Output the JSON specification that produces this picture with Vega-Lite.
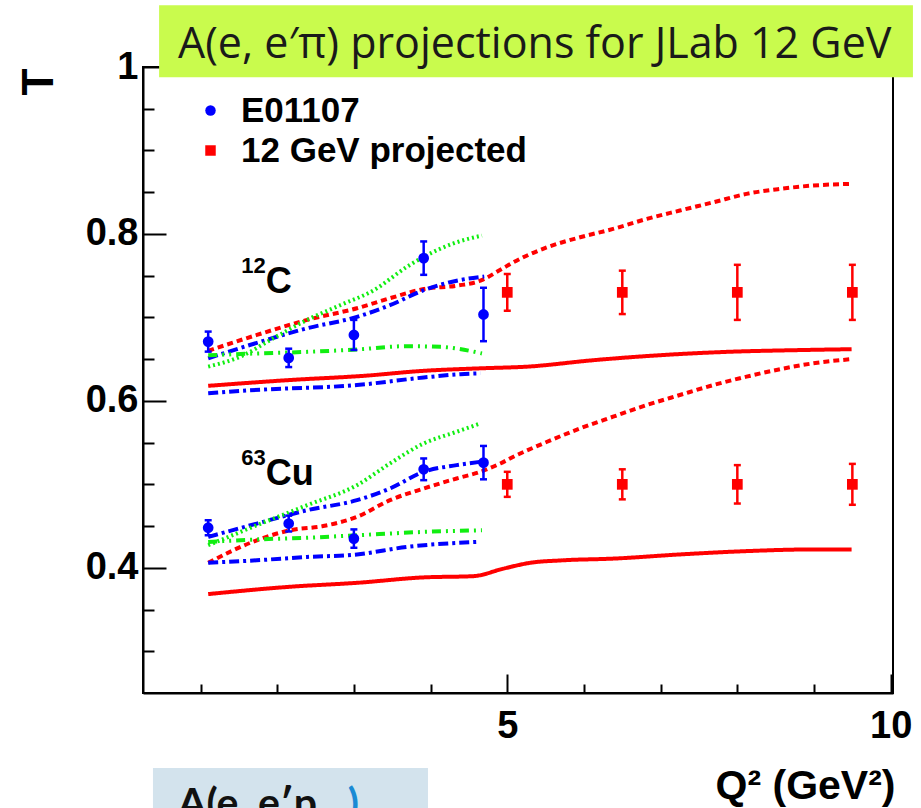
{
  "$schema": "https://vega.github.io/schema/vega-lite/v6.json",
  "autosize": {"type": "none"},
  "width": 750,
  "height": 626,
  "padding": {"left": 143, "top": 67, "right": 28, "bottom": 115},
  "background": "white",
  "config": {
    "view": {"stroke": "#000000", "strokeWidth": 2},
    "axis": {"grid": false, "domainColor": "#000000", "domainWidth": 2, "tickColor": "#000000", "tickWidth": 2, "labelFont": "Liberation Sans", "labelFontWeight": "bold", "labelColor": "#000000", "titleFont": "Liberation Sans", "titleFontWeight": "bold", "titleColor": "#000000"},
    "legend": {"labelFont": "Liberation Sans", "labelFontWeight": "bold", "labelFontSize": 35, "labelColor": "#000000", "labelLimit": 500, "symbolSize": 110, "labelOffset": 13, "rowPadding": 4, "padding": 0, "symbolStrokeWidth": 0, "symbolOpacity": 1}
  },
  "datasets": {
    "curves": [
      {"model": "LMS+CT", "nucleus": "C", "q2": 1.10, "t": 0.660},
      {"model": "LMS+CT", "nucleus": "C", "q2": 1.735, "t": 0.679},
      {"model": "LMS+CT", "nucleus": "C", "q2": 2.39, "t": 0.697},
      {"model": "LMS+CT", "nucleus": "C", "q2": 3.04, "t": 0.711},
      {"model": "LMS+CT", "nucleus": "C", "q2": 3.47, "t": 0.723},
      {"model": "LMS+CT", "nucleus": "C", "q2": 3.91, "t": 0.734},
      {"model": "LMS+CT", "nucleus": "C", "q2": 4.34, "t": 0.738},
      {"model": "LMS+CT", "nucleus": "C", "q2": 4.65, "t": 0.744},
      {"model": "LMS+CT", "nucleus": "C", "q2": 4.91, "t": 0.757},
      {"model": "LMS+CT", "nucleus": "C", "q2": 5.08, "t": 0.766},
      {"model": "LMS+CT", "nucleus": "C", "q2": 5.52, "t": 0.784},
      {"model": "LMS+CT", "nucleus": "C", "q2": 5.95, "t": 0.796},
      {"model": "LMS+CT", "nucleus": "C", "q2": 6.38, "t": 0.806},
      {"model": "LMS+CT", "nucleus": "C", "q2": 6.82, "t": 0.818},
      {"model": "LMS+CT", "nucleus": "C", "q2": 7.25, "t": 0.828},
      {"model": "LMS+CT", "nucleus": "C", "q2": 7.69, "t": 0.838},
      {"model": "LMS+CT", "nucleus": "C", "q2": 8.12, "t": 0.848},
      {"model": "LMS+CT", "nucleus": "C", "q2": 8.56, "t": 0.854},
      {"model": "LMS+CT", "nucleus": "C", "q2": 8.99, "t": 0.858},
      {"model": "LMS+CT", "nucleus": "C", "q2": 9.49, "t": 0.860},
      {"model": "LMS", "nucleus": "C", "q2": 1.10, "t": 0.618},
      {"model": "LMS", "nucleus": "C", "q2": 2.17, "t": 0.625},
      {"model": "LMS", "nucleus": "C", "q2": 3.13, "t": 0.630},
      {"model": "LMS", "nucleus": "C", "q2": 3.91, "t": 0.636},
      {"model": "LMS", "nucleus": "C", "q2": 4.65, "t": 0.639},
      {"model": "LMS", "nucleus": "C", "q2": 5.26, "t": 0.641},
      {"model": "LMS", "nucleus": "C", "q2": 6.12, "t": 0.6487},
      {"model": "LMS", "nucleus": "C", "q2": 6.99, "t": 0.6547},
      {"model": "LMS", "nucleus": "C", "q2": 7.86, "t": 0.6587},
      {"model": "LMS", "nucleus": "C", "q2": 8.73, "t": 0.6607},
      {"model": "LMS", "nucleus": "C", "q2": 9.49, "t": 0.6619},
      {"model": "RMSGA+CT", "nucleus": "C", "q2": 1.10, "t": 0.651},
      {"model": "RMSGA+CT", "nucleus": "C", "q2": 1.735, "t": 0.6695},
      {"model": "RMSGA+CT", "nucleus": "C", "q2": 2.39, "t": 0.687},
      {"model": "RMSGA+CT", "nucleus": "C", "q2": 3.04, "t": 0.7006},
      {"model": "RMSGA+CT", "nucleus": "C", "q2": 3.47, "t": 0.7146},
      {"model": "RMSGA+CT", "nucleus": "C", "q2": 3.91, "t": 0.7326},
      {"model": "RMSGA+CT", "nucleus": "C", "q2": 4.34, "t": 0.744},
      {"model": "RMSGA+CT", "nucleus": "C", "q2": 4.70, "t": 0.749},
      {"model": "RMSGA", "nucleus": "C", "q2": 1.10, "t": 0.609},
      {"model": "RMSGA", "nucleus": "C", "q2": 1.52, "t": 0.612},
      {"model": "RMSGA", "nucleus": "C", "q2": 2.17, "t": 0.615},
      {"model": "RMSGA", "nucleus": "C", "q2": 2.73, "t": 0.617},
      {"model": "RMSGA", "nucleus": "C", "q2": 3.04, "t": 0.619},
      {"model": "RMSGA", "nucleus": "C", "q2": 3.91, "t": 0.628},
      {"model": "RMSGA", "nucleus": "C", "q2": 4.39, "t": 0.632},
      {"model": "RMSGA", "nucleus": "C", "q2": 4.65, "t": 0.633},
      {"model": "KGM+CT", "nucleus": "C", "q2": 1.10, "t": 0.641},
      {"model": "KGM+CT", "nucleus": "C", "q2": 1.52, "t": 0.653},
      {"model": "KGM+CT", "nucleus": "C", "q2": 1.95, "t": 0.675},
      {"model": "KGM+CT", "nucleus": "C", "q2": 2.39, "t": 0.697},
      {"model": "KGM+CT", "nucleus": "C", "q2": 2.82, "t": 0.7146},
      {"model": "KGM+CT", "nucleus": "C", "q2": 3.26, "t": 0.7326},
      {"model": "KGM+CT", "nucleus": "C", "q2": 3.69, "t": 0.7605},
      {"model": "KGM+CT", "nucleus": "C", "q2": 3.91, "t": 0.7725},
      {"model": "KGM+CT", "nucleus": "C", "q2": 4.34, "t": 0.790},
      {"model": "KGM+CT", "nucleus": "C", "q2": 4.67, "t": 0.798},
      {"model": "KGM", "nucleus": "C", "q2": 1.10, "t": 0.6547},
      {"model": "KGM", "nucleus": "C", "q2": 1.735, "t": 0.6568},
      {"model": "KGM", "nucleus": "C", "q2": 2.39, "t": 0.6587},
      {"model": "KGM", "nucleus": "C", "q2": 3.04, "t": 0.6616},
      {"model": "KGM", "nucleus": "C", "q2": 3.69, "t": 0.6655},
      {"model": "KGM", "nucleus": "C", "q2": 4.13, "t": 0.6647},
      {"model": "KGM", "nucleus": "C", "q2": 4.67, "t": 0.6568},
      {"model": "LMS+CT", "nucleus": "Cu", "q2": 1.10, "t": 0.406},
      {"model": "LMS+CT", "nucleus": "Cu", "q2": 1.735, "t": 0.433},
      {"model": "LMS+CT", "nucleus": "Cu", "q2": 2.17, "t": 0.445},
      {"model": "LMS+CT", "nucleus": "Cu", "q2": 2.60, "t": 0.450},
      {"model": "LMS+CT", "nucleus": "Cu", "q2": 3.04, "t": 0.461},
      {"model": "LMS+CT", "nucleus": "Cu", "q2": 3.47, "t": 0.481},
      {"model": "LMS+CT", "nucleus": "Cu", "q2": 3.91, "t": 0.495},
      {"model": "LMS+CT", "nucleus": "Cu", "q2": 4.34, "t": 0.507},
      {"model": "LMS+CT", "nucleus": "Cu", "q2": 4.65, "t": 0.515},
      {"model": "LMS+CT", "nucleus": "Cu", "q2": 4.91, "t": 0.525},
      {"model": "LMS+CT", "nucleus": "Cu", "q2": 5.08, "t": 0.533},
      {"model": "LMS+CT", "nucleus": "Cu", "q2": 5.52, "t": 0.551},
      {"model": "LMS+CT", "nucleus": "Cu", "q2": 5.95, "t": 0.567},
      {"model": "LMS+CT", "nucleus": "Cu", "q2": 6.38, "t": 0.581},
      {"model": "LMS+CT", "nucleus": "Cu", "q2": 6.82, "t": 0.595},
      {"model": "LMS+CT", "nucleus": "Cu", "q2": 7.25, "t": 0.607},
      {"model": "LMS+CT", "nucleus": "Cu", "q2": 7.69, "t": 0.619},
      {"model": "LMS+CT", "nucleus": "Cu", "q2": 8.12, "t": 0.629},
      {"model": "LMS+CT", "nucleus": "Cu", "q2": 8.56, "t": 0.638},
      {"model": "LMS+CT", "nucleus": "Cu", "q2": 8.99, "t": 0.645},
      {"model": "LMS+CT", "nucleus": "Cu", "q2": 9.49, "t": 0.650},
      {"model": "LMS", "nucleus": "Cu", "q2": 1.10, "t": 0.3685},
      {"model": "LMS", "nucleus": "Cu", "q2": 2.17, "t": 0.3773},
      {"model": "LMS", "nucleus": "Cu", "q2": 3.04, "t": 0.382},
      {"model": "LMS", "nucleus": "Cu", "q2": 3.91, "t": 0.3885},
      {"model": "LMS", "nucleus": "Cu", "q2": 4.56, "t": 0.390},
      {"model": "LMS", "nucleus": "Cu", "q2": 4.95, "t": 0.399},
      {"model": "LMS", "nucleus": "Cu", "q2": 5.30, "t": 0.406},
      {"model": "LMS", "nucleus": "Cu", "q2": 5.73, "t": 0.409},
      {"model": "LMS", "nucleus": "Cu", "q2": 6.38, "t": 0.411},
      {"model": "LMS", "nucleus": "Cu", "q2": 7.25, "t": 0.416},
      {"model": "LMS", "nucleus": "Cu", "q2": 8.12, "t": 0.420},
      {"model": "LMS", "nucleus": "Cu", "q2": 8.99, "t": 0.422},
      {"model": "LMS", "nucleus": "Cu", "q2": 9.49, "t": 0.422},
      {"model": "RMSGA+CT", "nucleus": "Cu", "q2": 1.10, "t": 0.437},
      {"model": "RMSGA+CT", "nucleus": "Cu", "q2": 1.735, "t": 0.453},
      {"model": "RMSGA+CT", "nucleus": "Cu", "q2": 2.39, "t": 0.469},
      {"model": "RMSGA+CT", "nucleus": "Cu", "q2": 3.04, "t": 0.481},
      {"model": "RMSGA+CT", "nucleus": "Cu", "q2": 3.47, "t": 0.495},
      {"model": "RMSGA+CT", "nucleus": "Cu", "q2": 3.91, "t": 0.515},
      {"model": "RMSGA+CT", "nucleus": "Cu", "q2": 4.34, "t": 0.523},
      {"model": "RMSGA+CT", "nucleus": "Cu", "q2": 4.65, "t": 0.527},
      {"model": "RMSGA", "nucleus": "Cu", "q2": 1.10, "t": 0.406},
      {"model": "RMSGA", "nucleus": "Cu", "q2": 1.735, "t": 0.409},
      {"model": "RMSGA", "nucleus": "Cu", "q2": 2.39, "t": 0.413},
      {"model": "RMSGA", "nucleus": "Cu", "q2": 3.04, "t": 0.416},
      {"model": "RMSGA", "nucleus": "Cu", "q2": 3.69, "t": 0.425},
      {"model": "RMSGA", "nucleus": "Cu", "q2": 4.60, "t": 0.431},
      {"model": "KGM+CT", "nucleus": "Cu", "q2": 1.10, "t": 0.427},
      {"model": "KGM+CT", "nucleus": "Cu", "q2": 1.735, "t": 0.451},
      {"model": "KGM+CT", "nucleus": "Cu", "q2": 2.39, "t": 0.475},
      {"model": "KGM+CT", "nucleus": "Cu", "q2": 3.04, "t": 0.499},
      {"model": "KGM+CT", "nucleus": "Cu", "q2": 3.47, "t": 0.525},
      {"model": "KGM+CT", "nucleus": "Cu", "q2": 3.91, "t": 0.549},
      {"model": "KGM+CT", "nucleus": "Cu", "q2": 4.34, "t": 0.563},
      {"model": "KGM+CT", "nucleus": "Cu", "q2": 4.65, "t": 0.573},
      {"model": "KGM", "nucleus": "Cu", "q2": 1.10, "t": 0.431},
      {"model": "KGM", "nucleus": "Cu", "q2": 1.735, "t": 0.434},
      {"model": "KGM", "nucleus": "Cu", "q2": 2.39, "t": 0.436},
      {"model": "KGM", "nucleus": "Cu", "q2": 3.04, "t": 0.439},
      {"model": "KGM", "nucleus": "Cu", "q2": 3.91, "t": 0.443},
      {"model": "KGM", "nucleus": "Cu", "q2": 4.67, "t": 0.445}
    ],
    "points": [
      {"set": "E01107", "nucleus": "C", "q2": 1.1, "t": 0.671, "lo": 0.659, "hi": 0.683},
      {"set": "E01107", "nucleus": "C", "q2": 2.15, "t": 0.6515, "lo": 0.6405, "hi": 0.6625},
      {"set": "E01107", "nucleus": "C", "q2": 3.0, "t": 0.679, "lo": 0.661, "hi": 0.697},
      {"set": "E01107", "nucleus": "C", "q2": 3.91, "t": 0.771, "lo": 0.751, "hi": 0.791},
      {"set": "E01107", "nucleus": "C", "q2": 4.69, "t": 0.7035, "lo": 0.6715, "hi": 0.7355},
      {"set": "E01107", "nucleus": "Cu", "q2": 1.1, "t": 0.448, "lo": 0.439, "hi": 0.457},
      {"set": "E01107", "nucleus": "Cu", "q2": 2.15, "t": 0.453, "lo": 0.4435, "hi": 0.4625},
      {"set": "E01107", "nucleus": "Cu", "q2": 3.0, "t": 0.435, "lo": 0.424, "hi": 0.446},
      {"set": "E01107", "nucleus": "Cu", "q2": 3.91, "t": 0.518, "lo": 0.505, "hi": 0.531},
      {"set": "E01107", "nucleus": "Cu", "q2": 4.69, "t": 0.526, "lo": 0.506, "hi": 0.546},
      {"set": "12 GeV projected", "nucleus": "C", "q2": 5.0, "t": 0.73, "lo": 0.708, "hi": 0.752},
      {"set": "12 GeV projected", "nucleus": "C", "q2": 6.5, "t": 0.73, "lo": 0.704, "hi": 0.756},
      {"set": "12 GeV projected", "nucleus": "C", "q2": 8.0, "t": 0.73, "lo": 0.697, "hi": 0.763},
      {"set": "12 GeV projected", "nucleus": "C", "q2": 9.5, "t": 0.73, "lo": 0.697, "hi": 0.763},
      {"set": "12 GeV projected", "nucleus": "Cu", "q2": 5.0, "t": 0.50, "lo": 0.485, "hi": 0.515},
      {"set": "12 GeV projected", "nucleus": "Cu", "q2": 6.5, "t": 0.50, "lo": 0.482, "hi": 0.518},
      {"set": "12 GeV projected", "nucleus": "Cu", "q2": 8.0, "t": 0.50, "lo": 0.477, "hi": 0.523},
      {"set": "12 GeV projected", "nucleus": "Cu", "q2": 9.5, "t": 0.50, "lo": 0.4755, "hi": 0.5245}
    ],
    "labels": [
      {"mass": "12", "sym": "C", "q2": 1.85, "t": 0.729},
      {"mass": "63", "sym": "Cu", "q2": 1.85, "t": 0.499}
    ],
    "one": [{}]
  },
  "layer": [
    {
      "data": {"name": "one"},
      "mark": {"type": "rect", "color": "#c9fb4d"},
      "encoding": {
        "x": {"datum": 0.46, "type": "quantitative", "scale": {"domain": [0.25, 10.03], "nice": false, "zero": false}},
        "x2": {"datum": 10.29},
        "y": {"datum": 1.074, "type": "quantitative", "scale": {"domain": [0.25, 1.0], "nice": false, "zero": false}},
        "y2": {"datum": 0.9877}
      }
    },
    {
      "data": {"name": "one"},
      "mark": {"type": "text", "text": "A(e, e′π) projections for JLab 12 GeV", "font": "Open Sans", "fontSize": 43, "fontWeight": "normal", "color": "#1a1a1a", "align": "left", "baseline": "alphabetic"},
      "encoding": {
        "x": {"datum": 0.706, "type": "quantitative"},
        "y": {"datum": 1.0108, "type": "quantitative"}
      }
    },
    {
      "data": {"name": "one"},
      "mark": {"type": "rect", "color": "#d3e3ed"},
      "encoding": {
        "x": {"datum": 0.38, "type": "quantitative"},
        "x2": {"datum": 3.966},
        "y": {"datum": 0.1601, "type": "quantitative"},
        "y2": {"datum": 0.09}
      }
    },
    {
      "data": {"name": "one"},
      "mark": {"type": "text", "text": "A(e, e′p", "font": "Lato", "fontSize": 41, "fontWeight": "bold", "color": "#111111", "align": "left", "baseline": "alphabetic"},
      "encoding": {
        "x": {"datum": 0.706, "type": "quantitative"},
        "y": {"datum": 0.1014, "type": "quantitative"}
      }
    },
    {
      "data": {"name": "one"},
      "mark": {"type": "text", "text": ")", "font": "Lato", "fontSize": 41, "fontWeight": "bold", "color": "#1a8ad4", "align": "left", "baseline": "alphabetic"},
      "encoding": {
        "x": {"datum": 2.92, "type": "quantitative"},
        "y": {"datum": 0.1014, "type": "quantitative"}
      }
    },
    {
      "data": {"name": "curves"},
      "mark": {"type": "line", "strokeWidth": 4, "interpolate": "monotone", "strokeCap": "butt"},
      "encoding": {
        "x": {
          "field": "q2", "type": "quantitative",
          "axis": {
            "values": [1, 2, 3, 4, 5, 6, 7, 8, 9, 10],
            "labelExpr": "(datum.value == 5 || datum.value == 10) ? format(datum.value, 'd') : ''",
            "tickSize": {"condition": {"test": "datum.value == 5 || datum.value == 10", "value": -19}, "value": -9},
            "labelFontSize": 38,
            "labelPadding": 33,
            "labelFlush": false,
            "labelOverlap": false,
            "title": "Q² (GeV²)",
            "titleFontSize": 41,
            "titleAnchor": "end",
            "titleAlign": "right",
            "titleBaseline": "alphabetic",
            "titleX": 752,
            "titleY": 105
          }
        },
        "y": {
          "field": "t", "type": "quantitative",
          "axis": {
            "values": [0.3, 0.35, 0.4, 0.45, 0.5, 0.55, 0.6, 0.65, 0.7, 0.75, 0.8, 0.85, 0.9, 0.95, 1.0],
            "labelExpr": "abs(datum.value*5 - round(datum.value*5)) < 0.001 ? (datum.value > 0.99 ? '1' : format(datum.value, '.1f')) : ''",
            "tickSize": {"condition": {"test": "abs(datum.value*5 - round(datum.value*5)) < 0.001", "value": -23}, "value": -11},
            "labelFontSize": 38,
            "labelPadding": 28,
            "labelFlush": false,
            "labelOverlap": false,
            "title": "T",
            "titleFontSize": 44,
            "titleAngle": -90,
            "titleAlign": "right",
            "titleBaseline": "alphabetic",
            "titleX": -91,
            "titleY": 1
          }
        },
        "stroke": {
          "field": "model", "type": "nominal", "legend": null,
          "scale": {"domain": ["LMS+CT", "LMS", "RMSGA+CT", "RMSGA", "KGM+CT", "KGM"], "range": ["#ff0000", "#ff0000", "#0000ff", "#0000ff", "#11ee11", "#11ee11"]}
        },
        "strokeDash": {
          "field": "model", "type": "nominal", "legend": null,
          "scale": {"domain": ["LMS+CT", "LMS", "RMSGA+CT", "RMSGA", "KGM+CT", "KGM"], "range": [[6, 4], [1, 0], [10, 4, 3, 4], [10, 4, 3, 4], [2, 3], [9, 5, 2, 5, 2, 5]]}
        },
        "detail": {"field": "nucleus", "type": "nominal"}
      }
    },
    {
      "data": {"name": "points"},
      "mark": {"type": "rule", "strokeWidth": 2.5},
      "encoding": {
        "x": {"field": "q2", "type": "quantitative"},
        "y": {"field": "lo", "type": "quantitative"},
        "y2": {"field": "hi"},
        "color": {"field": "set", "type": "nominal", "scale": {"domain": ["E01107", "12 GeV projected"], "range": ["#0000ff", "#ff0000"]}}
      }
    },
    {
      "data": {"name": "points"},
      "mark": {"type": "tick", "orient": "horizontal", "size": 7, "thickness": 2.5, "opacity": 1},
      "encoding": {
        "x": {"field": "q2", "type": "quantitative"},
        "y": {"field": "lo", "type": "quantitative"},
        "color": {"field": "set", "type": "nominal"}
      }
    },
    {
      "data": {"name": "points"},
      "mark": {"type": "tick", "orient": "horizontal", "size": 7, "thickness": 2.5, "opacity": 1},
      "encoding": {
        "x": {"field": "q2", "type": "quantitative"},
        "y": {"field": "hi", "type": "quantitative"},
        "color": {"field": "set", "type": "nominal"}
      }
    },
    {
      "data": {"name": "points"},
      "mark": {"type": "point", "filled": true, "size": 115, "opacity": 1, "strokeWidth": 0},
      "encoding": {
        "x": {"field": "q2", "type": "quantitative"},
        "y": {"field": "t", "type": "quantitative"},
        "color": {
          "field": "set", "type": "nominal",
          "legend": {"orient": "none", "legendX": 50, "legendY": 26, "title": null, "symbolSize": 110, "labelLimit": 500}
        },
        "shape": {
          "field": "set", "type": "nominal",
          "scale": {"domain": ["E01107", "12 GeV projected"], "range": ["circle", "square"]},
          "legend": {"orient": "none", "legendX": 50, "legendY": 26, "title": null, "symbolSize": 110, "labelLimit": 500}
        }
      }
    },
    {
      "data": {"name": "labels"},
      "mark": {"type": "text", "font": "Liberation Sans", "fontWeight": "bold", "fontSize": 22, "align": "right", "baseline": "alphabetic", "dy": -20, "color": "#000000"},
      "encoding": {
        "x": {"field": "q2", "type": "quantitative"},
        "y": {"field": "t", "type": "quantitative"},
        "text": {"field": "mass"}
      }
    },
    {
      "data": {"name": "labels"},
      "mark": {"type": "text", "font": "Liberation Sans", "fontWeight": "bold", "fontSize": 36, "align": "left", "baseline": "alphabetic", "color": "#000000"},
      "encoding": {
        "x": {"field": "q2", "type": "quantitative"},
        "y": {"field": "t", "type": "quantitative"},
        "text": {"field": "sym"}
      }
    }
  ]
}
